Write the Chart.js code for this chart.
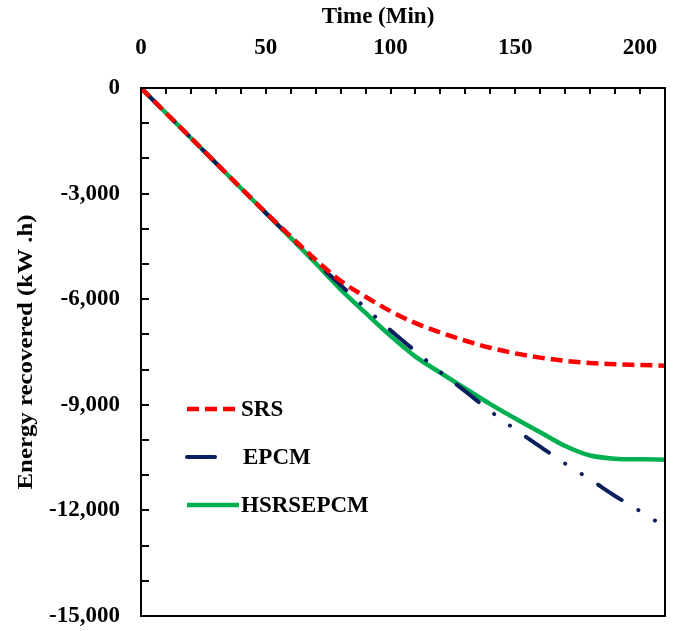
<!DOCTYPE html>
<html>
<head>
<meta charset="utf-8">
<script src="https://cdn.jsdelivr.net/npm/chart.js@4.4.1/dist/chart.umd.min.js"></script>
<style>
  html, body { margin: 0; padding: 0; background: #fff; }
  #wrap { width: 676px; height: 631px; }
</style>
</head>
<body>
<div id="wrap"><canvas id="energyChart" width="676" height="631"></canvas></div>
<script>
// time axis (min)
const time = [0, 10, 20, 30, 40, 50, 60, 70, 80, 90, 100,
  110, 120, 130, 140, 150, 160, 170, 180, 190, 200, 210];

// energy recovered (kW.h) for each system
const srs = [0, -710, -1420, -2130, -2840, -3540, -4220, -4880, -5480, -5930, -6340,
  -6680, -6950, -7180, -7380, -7540, -7660, -7750, -7810, -7850, -7870, -7890];
const epcm = [0, -710, -1420, -2130, -2840, -3550, -4250, -4940, -5600, -6250, -6880,
  -7480, -8070, -8620, -9180, -9700, -10190, -10670, -11120, -11590, -12020, -12470];
const hsrsepcm = [0, -710, -1420, -2130, -2840, -3550, -4260, -4980, -5720, -6390, -7040,
  -7630, -8090, -8540, -8980, -9390, -9780, -10170, -10440, -10530, -10550, -10560];

const seriesNames = ['SRS', 'EPCM', 'HSRSEPCM'];

const serif = "'Liberation Serif', 'Times New Roman', serif";
const toPoints = vals => vals.map((v, i) => ({ x: time[i], y: v }));

// box around the plot + inward tick marks
const frameAndTicks = {
  id: 'frameAndTicks',
  afterDatasetsDraw(chart) {
    const { ctx, chartArea: a, scales: { x, y } } = chart;
    ctx.save();
    ctx.strokeStyle = '#000';
    ctx.lineWidth = 2;
    ctx.beginPath();
    x.ticks.forEach(t => {
      const px = Math.round(x.getPixelForValue(t.value));
      ctx.moveTo(px, a.top);
      ctx.lineTo(px, a.top + 6);
    });
    y.ticks.forEach(t => {
      const py = Math.round(y.getPixelForValue(t.value));
      ctx.moveTo(a.left, py);
      ctx.lineTo(a.left + 8, py);
    });
    ctx.stroke();
    ctx.strokeRect(a.left, a.top, a.right - a.left, a.bottom - a.top);
    ctx.restore();
  }
};

// axis titles
const axisTitles = {
  id: 'axisTitles',
  afterDraw(chart) {
    const { ctx, chartArea: a } = chart;
    ctx.save();
    ctx.fillStyle = '#000';
    ctx.font = 'bold 23px ' + serif;
    ctx.textAlign = 'center';
    ctx.textBaseline = 'middle';
    ctx.fillText('Time (Min)', 378, 17);

    ctx.translate(26, (a.top + a.bottom) / 2);
    ctx.rotate(-Math.PI / 2);
    ctx.font = 'bold 22px ' + serif;
    const label = 'Energy recovered (kW .h)';
    const w = ctx.measureText(label).width;
    ctx.scale(275 / w, 1);
    ctx.fillText(label, 0, 0);
    ctx.restore();
  }
};

// legend sitting inside the plot
const innerLegend = {
  id: 'innerLegend',
  afterDraw(chart) {
    const { ctx } = chart;
    const rows = [409, 457, 505];
    const sampleLen = [48, 30, 52];
    ctx.save();
    ctx.font = 'bold 23px ' + serif;
    ctx.textBaseline = 'middle';
    ctx.fillStyle = '#000';
    chart.data.datasets.forEach((ds, i) => {
      ctx.save();
      ctx.strokeStyle = ds.borderColor;
      ctx.lineWidth = ds.borderWidth;
      ctx.lineCap = ds.borderCapStyle || 'butt';
      ctx.setLineDash(ds.borderDash || []);
      ctx.beginPath();
      ctx.moveTo(187, rows[i]);
      ctx.lineTo(187 + sampleLen[i], rows[i]);
      ctx.stroke();
      ctx.restore();
      ctx.fillText(ds.label, i === 1 ? 243 : 241, rows[i] + 1);
    });
    ctx.restore();
  }
};

const ctx = document.getElementById('energyChart').getContext('2d');
const energyChart = new Chart(ctx, {
  type: 'line',
  data: {
    datasets: [{
      label: seriesNames[0],
      data: toPoints(srs),
      borderColor: '#FF0000',
      borderWidth: 4.5,
      borderDash: [12, 6],
      cubicInterpolationMode: 'monotone',
      pointRadius: 0,
      fill: false
    }, {
      label: seriesNames[1],
      data: toPoints(epcm),
      borderColor: '#0A1F5E',
      borderWidth: 4,
      borderDash: [28, 19.5, 0.1, 19.5, 0.1, 19.5],
      borderCapStyle: 'round',
      cubicInterpolationMode: 'monotone',
      pointRadius: 0,
      fill: false
    }, {
      label: seriesNames[2],
      data: toPoints(hsrsepcm),
      borderColor: '#00B050',
      borderWidth: 4.5,
      cubicInterpolationMode: 'monotone',
      pointRadius: 0,
      fill: false
    }]
  },
  plugins: [frameAndTicks, axisTitles, innerLegend],
  options: {
    responsive: false,
    animation: false,
    devicePixelRatio: 1,
    layout: { padding: { left: 0, top: 0, right: 11, bottom: 15 } },
    plugins: {
      legend: { display: false },
      tooltip: { enabled: false }
    },
    scales: {
      x: {
        type: 'linear',
        position: 'top',
        min: 0,
        max: 210,
        afterFit: s => {
          s.height = 88;
          s.paddingLeft = 0;
          s.paddingRight = 0;
        },
        grid: { display: false, drawTicks: false },
        border: { display: false },
        ticks: {
          stepSize: 10,
          autoSkip: false,
          maxRotation: 0,
          padding: 26,
          color: '#000',
          font: { family: serif, size: 23, weight: 'bold' },
          callback: v => (v % 50 === 0 ? v : '')
        }
      },
      y: {
        min: -15000,
        max: 0,
        afterFit: s => {
          s.width = 141;
          s.paddingTop = 0;
          s.paddingBottom = 0;
        },
        grid: { display: false, drawTicks: false },
        border: { display: false },
        ticks: {
          stepSize: 1000,
          autoSkip: false,
          padding: 21,
          color: '#000',
          font: { family: serif, size: 23, weight: 'bold' },
          callback: v => (v % 3000 === 0 ? v.toLocaleString('en-US') : '')
        }
      }
    }
  }
});
</script>
</body>
</html>
